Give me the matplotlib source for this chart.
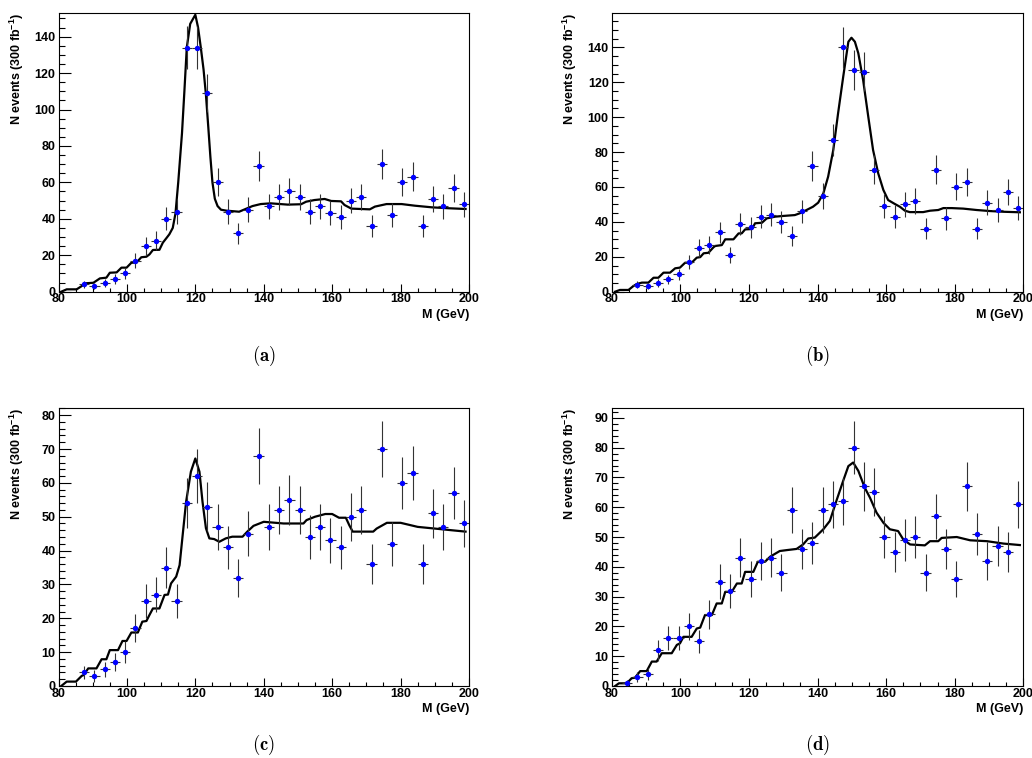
import numpy as np
import matplotlib
matplotlib.use("Agg")
import matplotlib.pyplot as plt
from matplotlib.ticker import MultipleLocator

# bin centres (3 GeV bins)
masses = [87.5, 90.5, 93.5, 96.5, 99.5, 102.5, 105.5, 108.5, 111.5, 114.5,
          117.5, 120.5, 123.5, 126.5, 129.5, 132.5, 135.5, 138.5, 141.5, 144.5,
          147.5, 150.5, 153.5, 156.5, 159.5, 162.5, 165.5, 168.5, 171.5, 174.5,
          177.5, 180.5, 183.5, 186.5, 189.5, 192.5, 195.5, 198.5]
masses_d = [84.5] + masses

counts_a = [4, 3, 5, 7, 10, 17, 25, 28, 40, 44, 134, 134, 109, 60, 44, 32, 45, 69, 47, 52,
            55, 52, 44, 47, 43, 41, 50, 52, 36, 70, 42, 60, 63, 36, 51, 47, 57, 48]
counts_b = [4, 3, 5, 7, 10, 17, 25, 27, 34, 21, 39, 37, 43, 44, 40, 32, 46, 72, 55, 87,
            140, 127, 126, 70, 49, 43, 50, 52, 36, 70, 42, 60, 63, 36, 51, 47, 57, 48]
counts_c = [4, 3, 5, 7, 10, 17, 25, 27, 35, 25, 54, 62, 53, 47, 41, 32, 45, 68, 47, 52,
            55, 52, 44, 47, 43, 41, 50, 52, 36, 70, 42, 60, 63, 36, 51, 47, 57, 48]
counts_d = [1, 3, 4, 12, 16, 16, 20, 15, 24, 35, 32, 43, 36, 42, 43, 38, 59, 46, 48, 59,
            61, 62, 80, 67, 65, 50, 45, 49, 50, 38, 57, 46, 36, 67, 51, 42, 47, 45, 61]

# expected distributions (mass, events)
curve_a = [(80.8, 0), (82.4, 1.3), (85.3, 1.3), (86.8, 3.1), (87.7, 4.6), (90.2, 4.9),
           (92.1, 7.3), (94.0, 7.7), (95.0, 10.4), (97.0, 10.6), (98.4, 13.2), (99.9, 13.2),
           (101.3, 15.9), (102.8, 16.0), (104.2, 18.9), (105.7, 19.2), (106.6, 20.5),
           (107.6, 22.9), (109.5, 23.0), (110.5, 26.9), (111.5, 29.3), (112.4, 31.5),
           (113.4, 35.0), (114.2, 43.0), (115.0, 60.0), (116.1, 87.0), (116.8, 110.0),
           (117.5, 134.0), (118.5, 147.0), (120.0, 152.0), (120.8, 145.0), (121.6, 134.0),
           (122.4, 122.0), (123.1, 108.0), (123.8, 90.0), (124.4, 74.0), (125.0, 60.0),
           (125.7, 51.0), (126.5, 47.0), (127.5, 45.0), (129.0, 44.5), (132.8, 43.9),
           (135.2, 45.8), (136.7, 47.0), (139.1, 48.1), (142.0, 48.5), (147.0, 47.8),
           (150.9, 48.0), (152.4, 49.4), (154.8, 50.3), (157.8, 50.9), (159.7, 49.8),
           (162.6, 49.6), (163.6, 47.6), (165.6, 45.6), (171.0, 45.2), (172.5, 46.7),
           (175.9, 48.1), (180.3, 48.1), (184.2, 47.2), (189.2, 46.3), (194.1, 45.8),
           (199.0, 45.4)]
curve_b = [(81.0, 0), (82.4, 1.0), (84.9, 1.0), (86.3, 3.2), (87.3, 4.4), (88.8, 5.2),
           (90.7, 5.2), (92.2, 8.0), (93.6, 8.0), (95.1, 10.9), (97.0, 10.9), (98.5, 13.4),
           (99.9, 13.8), (101.4, 16.6), (103.3, 16.6), (104.8, 19.5), (105.8, 19.8),
           (106.8, 22.0), (108.2, 22.3), (109.7, 25.5), (110.2, 26.2), (112.1, 26.7),
           (113.1, 30.0), (115.5, 30.0), (117.0, 33.4), (117.9, 33.4), (118.9, 35.7),
           (120.9, 35.9), (121.8, 39.2), (123.8, 39.5), (125.2, 42.0), (127.7, 43.0),
           (130.0, 43.4), (133.4, 43.9), (134.8, 44.9), (136.8, 46.8), (138.7, 48.7),
           (140.2, 51.0), (141.7, 56.3), (143.1, 65.9), (144.6, 81.2), (146.0, 102.2),
           (147.5, 123.2), (149.0, 143.2), (149.9, 145.5), (150.9, 143.2), (151.9, 136.6),
           (153.3, 121.3), (154.8, 100.3), (156.2, 81.2), (157.7, 67.8), (159.2, 58.3),
           (160.6, 52.5), (162.6, 50.2), (164.0, 48.7), (165.5, 46.4), (166.9, 45.6),
           (170.8, 45.6), (172.8, 46.4), (175.2, 46.8), (176.7, 47.9), (179.1, 47.9),
           (182.5, 47.6), (186.4, 46.8), (190.3, 46.2), (194.2, 45.8), (199.0, 45.5)]
curve_c = [(80.8, 0), (82.4, 1.3), (85.1, 1.3), (86.8, 3.0), (87.3, 3.2), (88.7, 5.2),
           (91.1, 5.2), (92.6, 7.9), (94.0, 7.9), (95.0, 10.6), (97.4, 10.6), (98.7, 13.3),
           (99.9, 13.3), (101.3, 15.8), (103.2, 15.8), (104.5, 19.0), (105.7, 19.2),
           (106.6, 21.0), (107.6, 22.9), (109.5, 22.9), (111.0, 26.9), (112.0, 27.0),
           (112.9, 30.3), (114.4, 32.3), (115.4, 35.7), (116.3, 44.6), (117.3, 54.4),
           (118.7, 63.3), (120.0, 67.2), (121.2, 63.3), (122.1, 54.4), (123.1, 46.6),
           (124.1, 43.6), (125.5, 43.4), (127.0, 42.6), (128.9, 43.6), (130.8, 44.1),
           (133.8, 44.1), (135.2, 45.6), (137.0, 47.3), (140.0, 48.5), (145.8, 48.0),
           (151.6, 48.0), (152.5, 49.0), (155.0, 50.0), (158.0, 50.8), (160.0, 50.8),
           (162.0, 49.7), (164.0, 49.7), (165.0, 47.5), (166.0, 45.6), (172.0, 45.6),
           (173.0, 46.5), (176.0, 48.2), (180.0, 48.2), (185.0, 47.0), (190.0, 46.5),
           (195.0, 46.0), (199.0, 45.6)]
curve_d = [(81.0, 0), (82.1, 0.9), (84.4, 0.9), (85.8, 2.6), (86.8, 2.8), (88.3, 5.0),
           (90.2, 5.0), (91.7, 8.2), (93.1, 8.2), (94.6, 11.0), (97.5, 11.0), (99.0, 13.8),
           (99.9, 14.3), (100.9, 16.5), (103.3, 16.5), (104.8, 19.3), (105.8, 19.6),
           (107.2, 23.8), (109.2, 23.8), (110.6, 27.7), (112.1, 27.7), (113.1, 31.6),
           (115.0, 31.6), (116.5, 34.4), (117.9, 34.4), (118.9, 38.3), (121.3, 38.3),
           (122.6, 41.7), (124.7, 41.7), (126.2, 43.4), (129.0, 45.3), (131.0, 45.6),
           (133.9, 46.0), (135.8, 47.5), (137.3, 49.5), (139.2, 49.8), (141.7, 52.6),
           (143.6, 55.4), (145.5, 62.1), (147.5, 68.9), (149.0, 73.8), (150.4, 75.0),
           (151.9, 72.2), (153.8, 66.5), (155.3, 63.2), (157.2, 58.2), (159.2, 54.8),
           (161.1, 52.6), (163.5, 52.0), (165.0, 49.2), (167.0, 47.5), (171.3, 47.2),
           (172.8, 48.6), (175.2, 48.6), (176.2, 49.7), (180.6, 50.0), (184.5, 48.9),
           (189.4, 48.6), (194.2, 47.8), (199.0, 47.3)]

captions = ["(a)", "(b)", "(c)", "(d)"]
ytops = [152.8, 159.5, 82.2, 93.4]
ymajor = [20, 20, 10, 10]
yminor = [5, 5, 2, 2]

plt.rcParams["font.family"] = ["Liberation Sans", "DejaVu Sans"]
plt.rcParams["font.weight"] = "bold"
plt.rcParams["mathtext.fontset"] = "custom"
plt.rcParams["mathtext.rm"] = "Liberation Sans:bold"
plt.rcParams["mathtext.bf"] = "Liberation Sans:bold"
plt.rcParams["mathtext.it"] = "Liberation Sans:bold"
plt.rcParams["mathtext.default"] = "regular"

W, H = 1032, 758
fig = plt.figure(figsize=(W / 100, H / 100), dpi=100)

# pixel boxes: left, top, right, bottom
boxes = [(58.5, 13.3, 469.0, 291.7), (611.7, 13.3, 1023.3, 291.7),
         (58.5, 407.7, 469.0, 686.0), (611.7, 407.7, 1023.3, 686.0)]
caption_y = [356, 356, 745, 745]

panels = [(masses, counts_a, curve_a), (masses, counts_b, curve_b),
          (masses, counts_c, curve_c), (masses_d, counts_d, curve_d)]

fs = 9

for i, (x, y, curve) in enumerate(panels):
    l, t, r, b = boxes[i]
    ax = fig.add_axes([l / W, 1 - b / H, (r - l) / W, (b - t) / H])
    y = np.array(y, dtype=float)
    ax.errorbar(x, y, yerr=np.sqrt(y), xerr=1.5, fmt="o", color="#0000ff",
                markersize=3.9, markeredgewidth=0, ecolor="#333333",
                elinewidth=0.8, capsize=1.4, capthick=0.8, zorder=3)
    cx = [p[0] for p in curve]
    cy = [p[1] for p in curve]
    ax.plot(cx, cy, color="black", lw=1.6, zorder=2)

    ax.set_xlim(80, 200)
    ax.set_ylim(0, ytops[i])
    ax.xaxis.set_major_locator(MultipleLocator(20))
    ax.xaxis.set_minor_locator(MultipleLocator(5))
    ax.yaxis.set_major_locator(MultipleLocator(ymajor[i]))
    ax.yaxis.set_minor_locator(MultipleLocator(yminor[i]))
    ax.tick_params(which="both", direction="in", top=False, right=False,
                   width=0.8, labelsize=fs)
    ax.tick_params(axis="y", which="major", length=8.6, pad=2.2)
    ax.tick_params(axis="y", which="minor", length=4.3)
    ax.tick_params(axis="x", which="major", length=5.5, pad=1.2)
    ax.tick_params(axis="x", which="minor", length=2.9)
    for sp in ax.spines.values():
        sp.set_linewidth(0.8)

    fig.text((l - 42) / W, 1 - t / H, r"N events (300 fb$^{-1}$)", rotation=90,
             ha="center", va="top", fontsize=fs)
    fig.text(r / W, 1 - (b + 23) / H, "M (GeV)", ha="right", va="center",
             fontsize=fs)
    fig.text((l + r) / 2 / W, 1 - caption_y[i] / H, r"$\mathbf{" + captions[i] + "}$",
             math_fontfamily="cm", fontsize=13.5, ha="center", va="center")

plt.savefig("out.png", dpi=100)
